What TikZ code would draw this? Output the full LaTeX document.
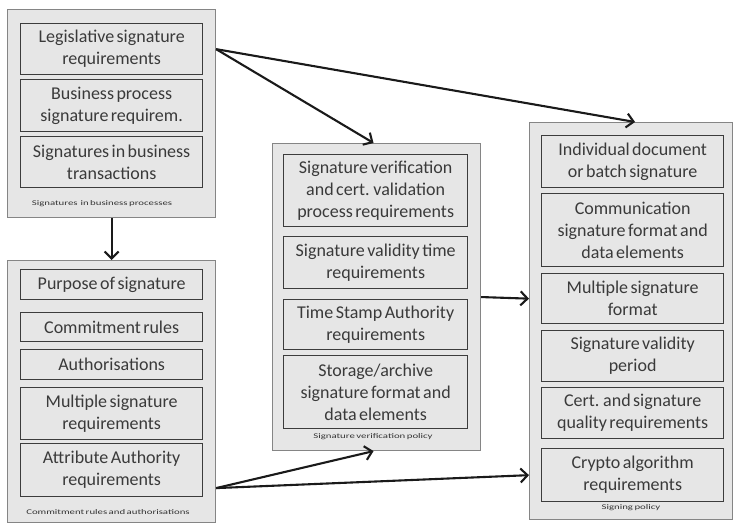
\documentclass[tikz,border=0pt]{standalone}
\usepackage{fontspec}
\setmainfont{Carlito}[WordSpace=0.6]
\usetikzlibrary{arrows.meta,calc}
\definecolor{panel}{HTML}{E6E6E6}
\definecolor{panelline}{HTML}{858585}
\definecolor{boxline}{HTML}{3C3C3C}
\definecolor{ink}{HTML}{3A3A3A}
\definecolor{wire}{HTML}{1A1A1A}
\tikzset{
  panelbox/.style={draw=panelline, fill=panel, line width=1.1pt, anchor=north west, inner sep=0pt},
  itembox/.style={draw=boxline, fill=panel, line width=1.3pt, anchor=north west, inner sep=0pt,
    align=center, text=ink, font=\fontsize{18}{22}\selectfont},
  caption/.style={text=ink!90!black, inner sep=0pt, font=\fontsize{7.2}{8}\selectfont},
  link/.style={draw=wire, line width=2.1pt, -{Straight Barb[length=7pt,width=14pt,line width=2.1pt]}}
}
\newcommand{\capt}[1]{\scalebox{1.5}[1]{#1}}
\begin{document}
\begin{tikzpicture}[x=1pt,y=-1pt]
\useasboundingbox (0,0) rectangle (733,524);

% Signatures in business processes
\node[panelbox, minimum width=208pt, minimum height=208pt] (c1) at (7,9) {};
\node[itembox, minimum width=182pt, minimum height=51pt] (b11) at (20,23) {Legislative signature\\requirements};
\node[itembox, minimum width=182pt, minimum height=52pt] (b12) at (20,79) {Business process\\signature requirem.};
\node[itembox, minimum width=182pt, minimum height=51pt] (b13) at (20,136) {Signatures in business\\transactions};
\node[caption] (cap1) at (102,204) {\capt{Signatures\ \ in business processes}};

% Commitment rules and authorisations
\node[panelbox, minimum width=208pt, minimum height=262pt] (c2) at (7,260) {};
\node[itembox, minimum width=182pt, minimum height=30pt] (b21) at (20,269) {Purpose of signature};
\node[itembox, minimum width=182pt, minimum height=29pt] (b22) at (20,312) {Commitment rules};
\node[itembox, minimum width=182pt, minimum height=30pt] (b23) at (20,349) {Authorisations};
\node[itembox, minimum width=182pt, minimum height=52pt] (b24) at (20,387) {Multiple signature\\requirements};
\node[itembox, minimum width=182pt, minimum height=53pt] (b25) at (20,443) {Attribute Authority\\requirements};
\node[caption] (cap2) at (108,512) {\capt{Commitment rules and authorisations}};

% Signature verification policy
\node[panelbox, minimum width=208pt, minimum height=307pt] (c3) at (272,143) {};
\node[itembox, minimum width=184pt, minimum height=72pt] (b31) at (283,154) {Signature verification\\and cert. validation\\process requirements};
\node[itembox, minimum width=184pt, minimum height=52pt] (b32) at (283,236) {Signature validity time\\requirements};
\node[itembox, minimum width=184pt, minimum height=50pt] (b33) at (283,299) {Time Stamp Authority\\requirements};
\node[itembox, minimum width=184pt, minimum height=73pt] (b34) at (283,355) {Storage/archive\\signature format and\\data elements};
\node[caption] (cap3) at (373,437) {\capt{Signature verification policy}};

% Signing policy
\node[panelbox, minimum width=203pt, minimum height=397pt] (c4) at (529,122) {};
\node[itembox, minimum width=182pt, minimum height=52pt] (b41) at (541,135) {Individual document\\or batch signature};
\node[itembox, minimum width=182pt, minimum height=73pt] (b42) at (541,193) {Communication\\signature format and\\data elements};
\node[itembox, minimum width=182pt, minimum height=50pt] (b43) at (541,273) {Multiple signature\\format};
\node[itembox, minimum width=182pt, minimum height=51pt] (b44) at (541,330) {Signature validity\\period};
\node[itembox, minimum width=182pt, minimum height=51pt] (b45) at (541,387) {Cert. and signature\\quality requirements};
\node[itembox, minimum width=182pt, minimum height=53pt] (b46) at (541,448) {Crypto algorithm\\requirements};
\node[caption] (cap4) at (631,508) {\capt{Signing policy}};

% Connectors
\coordinate (o1) at (c1.east |- b11);
\coordinate (o2) at ([yshift=35pt]c2.south east);
\draw[link] (o1) -- ([xshift=-3pt]c3.north);
\draw[link] (o1) -- ([xshift=4pt]c4.north);
\draw[link] (c1.south) -- (c2.north);
\draw[link] (o2) -- ([xshift=-3pt]c3.south);
\draw[link] (o2) -- (c4.west |- b46);
\draw[link] (c3.east) -- (c4.west |- b43);
\end{tikzpicture}
\end{document}
